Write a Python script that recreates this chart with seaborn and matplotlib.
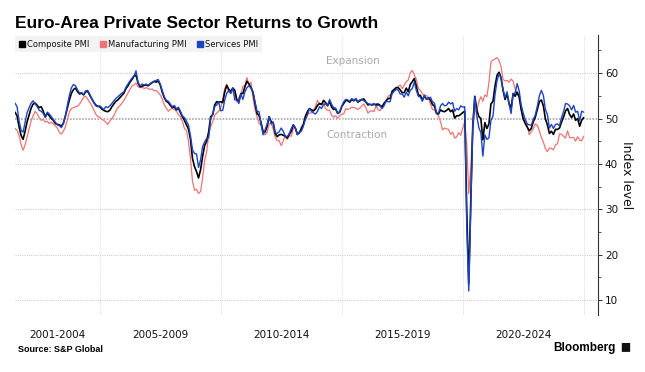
import pandas as pd
import matplotlib
matplotlib.use("Agg")
import matplotlib.pyplot as plt
from matplotlib.lines import Line2D
from matplotlib.patches import FancyBboxPatch
import seaborn as sns

# STYLE
sns.set_style("white")
plt.rcParams['font.family'] = ['DejaVu Sans']

# DATA: monthly PMI readings, Jul 2001 - Jan 2025
start_month = "2001-07-01"

composite = [
    51.4, 50.6, 48.2, 46.3, 45.4, 47.2,                                  # 2001 (Jul-Dec)
    49.3, 50.8, 52.3, 53.2, 53.4, 52.9, 52.4, 52.6, 51.6, 50.3, 51.2, 50.6,  # 2002
    50.0, 49.6, 48.9, 48.7, 48.6, 48.3, 49.0, 50.6, 52.4, 54.2, 55.6, 56.4,  # 2003
    56.7, 55.9, 55.4, 55.6, 55.2, 55.9, 56.0, 55.2, 54.4, 53.6, 53.0, 52.7,  # 2004
    52.6, 52.1, 51.8, 51.6, 51.5, 51.8, 52.6, 53.2, 53.8, 54.1, 54.6, 55.1,  # 2005
    55.6, 56.6, 57.2, 58.0, 58.6, 59.3, 59.6, 57.8, 57.0, 57.1, 57.3, 57.4,  # 2006
    57.2, 57.6, 57.9, 58.2, 58.0, 58.3, 57.4, 55.8, 54.6, 53.8, 53.5, 52.9,  # 2007
    52.4, 52.6, 51.9, 52.3, 51.3, 50.4, 49.6, 48.6, 47.7, 45.4, 41.2, 39.4,  # 2008
    38.3, 36.9, 38.7, 41.6, 44.0, 45.0, 47.0, 50.4, 50.8, 53.0, 53.7, 53.6,  # 2009
    53.7, 53.5, 55.9, 57.3, 56.4, 56.0, 56.7, 56.2, 54.1, 53.8, 55.5, 55.5,  # 2010
    57.0, 58.2, 57.6, 56.8, 55.8, 53.3, 51.1, 50.7, 49.1, 47.1, 47.0, 48.3,  # 2011
    50.4, 49.3, 49.1, 46.7, 46.0, 46.4, 46.5, 46.3, 46.1, 45.7, 46.5, 47.2,  # 2012
    48.6, 47.9, 46.5, 46.9, 47.7, 48.7, 50.5, 51.5, 52.2, 51.9, 51.7, 52.1,  # 2013
    52.9, 53.3, 53.1, 54.0, 53.5, 52.8, 53.8, 52.5, 52.0, 52.1, 51.1, 51.4,  # 2014
    52.6, 53.3, 54.0, 53.9, 53.6, 54.2, 53.9, 54.3, 53.6, 53.9, 54.2, 54.3,  # 2015
    53.6, 53.0, 53.1, 53.0, 53.1, 53.1, 53.2, 52.9, 52.6, 53.3, 53.9, 54.4,  # 2016
    54.4, 56.0, 56.4, 56.8, 56.8, 56.3, 55.7, 55.7, 56.7, 55.9, 57.5, 58.1,  # 2017
    58.8, 57.1, 55.2, 55.1, 54.1, 54.9, 54.3, 54.5, 54.1, 53.1, 52.7, 51.1,  # 2018
    51.0, 51.9, 51.6, 51.5, 51.8, 52.2, 51.5, 51.9, 50.1, 50.6, 50.6, 50.9,  # 2019
    51.3, 51.6, 29.7, 13.6, 31.9, 48.5, 54.9, 51.9, 50.4, 50.0, 45.3, 49.1,  # 2020
    47.8, 48.8, 53.2, 53.8, 57.1, 59.5, 60.2, 59.0, 56.2, 54.2, 55.4, 53.3,  # 2021
    52.3, 55.5, 54.9, 55.8, 54.8, 52.0, 49.9, 48.9, 48.1, 47.3, 47.8, 49.3,  # 2022
    50.3, 52.0, 53.7, 54.1, 52.8, 49.9, 48.6, 46.7, 47.2, 46.5, 47.6, 47.6,  # 2023
    47.9, 49.2, 50.3, 51.7, 52.2, 50.9, 50.2, 51.0, 49.6, 50.0, 48.3, 49.6,  # 2024
    50.2,                                                                # 2025 (Jan)
]

manufacturing = [
    47.8, 47.4, 46.3, 44.3, 43.0, 44.2,                                  # 2001 (Jul-Dec)
    46.0, 47.8, 49.5, 50.6, 51.6, 51.0, 50.2, 49.6, 49.8, 49.2, 49.4, 48.9,  # 2002
    49.2, 48.8, 48.4, 47.9, 46.9, 46.6, 47.2, 48.2, 49.8, 51.6, 52.2, 52.4,  # 2003
    52.6, 52.7, 53.2, 53.9, 54.7, 54.9, 54.3, 53.6, 52.9, 51.9, 51.0, 50.4,  # 2004
    50.3, 49.8, 49.6, 49.2, 48.7, 49.4, 50.0, 50.6, 51.6, 52.4, 52.8, 53.4,  # 2005
    54.0, 54.8, 55.6, 56.4, 57.2, 57.4, 57.8, 57.0, 56.8, 56.9, 56.6, 56.8,  # 2006
    56.6, 56.4, 56.5, 56.1, 56.2, 55.7, 55.2, 54.3, 53.0, 52.3, 51.6, 52.0,  # 2007
    52.3, 52.0, 51.6, 50.9, 50.4, 49.4, 47.8, 47.4, 45.0, 41.2, 36.2, 34.2,  # 2008
    34.4, 33.5, 33.9, 36.8, 40.7, 42.6, 46.3, 48.2, 49.3, 50.7, 51.2, 51.6,  # 2009
    52.4, 54.2, 56.6, 57.6, 55.8, 55.6, 56.7, 55.1, 53.7, 54.6, 55.3, 57.1,  # 2010
    57.3, 59.0, 57.5, 58.0, 54.6, 52.0, 50.4, 49.0, 48.5, 47.1, 46.4, 46.9,  # 2011
    48.8, 49.0, 47.7, 45.9, 45.1, 45.1, 44.0, 45.1, 46.1, 45.4, 46.2, 46.1,  # 2012
    47.9, 47.9, 46.8, 46.7, 48.3, 48.8, 50.3, 51.4, 51.1, 51.3, 51.6, 52.7,  # 2013
    54.0, 53.2, 53.0, 53.4, 52.2, 51.8, 51.8, 50.7, 50.3, 50.6, 50.1, 50.6,  # 2014
    51.0, 51.0, 52.2, 52.0, 52.2, 52.5, 52.4, 52.3, 52.0, 52.3, 52.8, 53.2,  # 2015
    52.3, 51.2, 51.6, 51.7, 51.5, 52.8, 52.0, 51.7, 52.6, 53.5, 53.7, 54.9,  # 2016
    55.2, 55.4, 56.2, 56.7, 57.0, 57.4, 56.6, 57.4, 58.1, 58.5, 60.1, 60.6,  # 2017
    59.6, 58.6, 56.6, 56.2, 55.5, 54.9, 55.1, 54.6, 53.2, 52.0, 51.8, 51.4,  # 2018
    50.5, 49.3, 47.5, 47.9, 47.7, 47.6, 46.5, 47.0, 45.7, 45.9, 46.9, 46.3,  # 2019
    47.9, 49.2, 44.5, 33.4, 39.4, 47.4, 51.8, 51.7, 53.7, 54.8, 53.8, 55.2,  # 2020
    54.8, 57.9, 62.5, 62.9, 63.1, 63.4, 62.8, 61.4, 58.6, 58.3, 58.4, 58.0,  # 2021
    58.7, 58.2, 56.5, 55.5, 54.6, 52.1, 49.8, 49.6, 48.4, 46.4, 47.1, 47.8,  # 2022
    48.8, 48.5, 47.3, 45.8, 44.8, 43.4, 42.7, 43.5, 43.4, 43.1, 44.2, 44.4,  # 2023
    46.6, 46.5, 46.1, 45.7, 47.3, 45.8, 45.8, 45.8, 45.0, 46.0, 45.2, 45.1,  # 2024
    46.1,                                                                # 2025 (Jan)
]

services = [
    53.4, 52.6, 49.5, 47.4, 47.0, 49.2,                                  # 2001 (Jul-Dec)
    51.3, 52.4, 53.4, 53.9, 53.2, 52.6, 51.8, 51.6, 51.1, 50.3, 51.4, 51.0,  # 2002
    50.4, 49.8, 49.2, 48.6, 48.4, 48.0, 48.9, 50.6, 53.0, 55.2, 56.8, 57.5,  # 2003
    57.2, 56.3, 55.6, 55.7, 55.3, 56.1, 56.2, 55.4, 54.4, 53.6, 52.8, 52.6,  # 2004
    52.8, 52.4, 52.0, 52.6, 52.4, 52.8, 53.3, 53.9, 54.4, 54.8, 55.2, 55.6,  # 2005
    55.9, 56.9, 57.6, 58.3, 58.9, 59.4, 60.5, 58.0, 57.2, 57.6, 57.4, 57.6,  # 2006
    57.3, 57.7, 58.0, 58.2, 58.4, 58.6, 57.6, 56.2, 54.8, 54.0, 53.8, 53.2,  # 2007
    52.6, 52.9, 52.1, 52.5, 51.6, 50.6, 50.2, 49.4, 48.6, 46.2, 43.1, 42.3,  # 2008
    42.2, 39.2, 40.9, 43.8, 44.8, 45.6, 45.7, 49.9, 50.9, 52.6, 53.0, 53.6,  # 2009
    51.7, 51.8, 54.1, 55.6, 56.2, 55.5, 56.7, 54.1, 54.1, 53.3, 55.4, 54.2,  # 2010
    55.9, 56.8, 57.2, 56.7, 55.8, 53.7, 51.6, 51.5, 48.8, 46.4, 47.5, 48.8,  # 2011
    50.4, 48.8, 49.2, 46.9, 46.7, 47.1, 47.9, 47.2, 46.1, 46.0, 46.7, 47.8,  # 2012
    48.6, 47.9, 46.4, 47.0, 47.2, 48.3, 49.8, 50.7, 52.2, 51.6, 51.2, 51.0,  # 2013
    51.6, 52.6, 52.2, 53.1, 53.2, 52.8, 54.2, 53.1, 52.4, 52.3, 51.1, 51.6,  # 2014
    52.7, 53.7, 54.2, 54.1, 53.8, 54.4, 54.0, 54.4, 53.7, 54.1, 54.2, 53.9,  # 2015
    53.6, 53.3, 53.1, 53.1, 53.3, 52.8, 52.9, 52.8, 52.2, 52.8, 53.8, 53.7,  # 2016
    53.7, 55.5, 56.0, 56.4, 56.3, 55.4, 55.4, 54.7, 55.8, 55.0, 56.2, 56.6,  # 2017
    58.0, 56.2, 54.9, 54.7, 53.8, 55.2, 54.2, 54.4, 54.7, 53.7, 53.4, 51.2,  # 2018
    51.2, 52.8, 53.3, 52.8, 52.9, 53.6, 53.2, 53.5, 51.6, 52.2, 51.9, 52.8,  # 2019
    52.5, 52.6, 26.4, 12.0, 30.5, 48.3, 54.7, 50.5, 48.0, 46.9, 41.7, 46.4,  # 2020
    45.4, 45.7, 49.6, 50.5, 55.2, 58.3, 59.8, 59.0, 56.4, 54.6, 55.9, 53.1,  # 2021
    51.1, 55.5, 55.6, 57.7, 56.1, 53.0, 51.2, 49.8, 48.8, 48.6, 48.5, 49.8,  # 2022
    50.8, 52.7, 55.0, 56.2, 55.1, 52.0, 50.9, 47.9, 48.7, 47.8, 48.7, 48.8,  # 2023
    48.4, 50.2, 51.5, 53.3, 53.2, 52.8, 51.9, 52.9, 51.4, 51.6, 49.5, 51.6,  # 2024
    51.4,                                                                # 2025 (Jan)
]

series_names = ["Composite PMI", "Manufacturing PMI", "Services PMI"]
period_labels = ["2001-2004", "2005-2009", "2010-2014", "2015-2019", "2020-2024"]
period_centers = [2003.25, 2007.5, 2012.5, 2017.5, 2022.5]
period_bounds = [2005, 2010, 2015, 2020, 2025]

# BUILD TABLE
dates = pd.date_range(start_month, periods=len(composite), freq="MS")
df = pd.DataFrame({
    "t": dates.year + (dates.month - 1) / 12,
    "Composite PMI": composite,
    "Manufacturing PMI": manufacturing,
    "Services PMI": services,
})
long_df = df.melt(id_vars="t", var_name="series", value_name="value")

colors = {"Composite PMI": "#000000",
          "Manufacturing PMI": "#f07373",
          "Services PMI": "#1d44c2"}
widths = {"Composite PMI": 1.2, "Manufacturing PMI": 0.9, "Services PMI": 1.0}

# FIGURE
fig = plt.figure(figsize=(6.45, 3.72), dpi=100)
ax = fig.add_axes([0.0233, 0.1532, 0.9038, 0.7527])

for name in ["Manufacturing PMI", "Composite PMI", "Services PMI"]:
    sns.lineplot(data=long_df[long_df["series"] == name], x="t", y="value",
                 color=colors[name], linewidth=widths[name], ax=ax,
                 legend=False)

ax.set_xlim(2001.5, 2025.59)
ax.set_ylim(6.7, 68.4)

# GRIDS
ax.set_yticks([10, 20, 30, 40, 50, 60])
ax.set_yticks([15, 25, 35, 45, 55, 65], minor=True)
for v in [10, 20, 30, 40, 60]:
    ax.axhline(v, color="#cfcfcf", linestyle=(0, (1, 1)), linewidth=0.8, zorder=0)
ax.axhline(50, color="#9a9a9a", linestyle=(0, (1, 1)), linewidth=1.1, zorder=0)
for b in period_bounds:
    ax.axvline(b, color="#e0e0e0", linestyle=(0, (1, 1)), linewidth=0.8, zorder=0)

# AXES
for s in ["top", "left", "bottom"]:
    ax.spines[s].set_visible(False)
ax.spines["right"].set_color("#333333")
ax.spines["right"].set_linewidth(0.8)
ax.yaxis.tick_right()
ax.tick_params(axis="y", which="major", length=3, width=0.7, pad=2,
               labelsize=7.5, colors="#333333", labelcolor="#111111")
ax.tick_params(axis="y", which="minor", length=2, width=0.6, colors="#333333")
ax.set_xticks(period_centers)
ax.set_xticklabels(period_labels)
ax.tick_params(axis="x", length=0, pad=11, labelsize=7.5, labelcolor="#111111")
ax.set_xlabel("")
ax.set_ylabel("Index level", rotation=270, fontsize=9, color="#111111")
ax.yaxis.set_label_position("right")
ax.yaxis.set_label_coords(1.049, 0.5)
ax.yaxis.label.set_va("center")

# ANNOTATIONS
ax.text(2014.35, 62.7, "Expansion", color="#aaaaaa", fontsize=7.5, va="center")
ax.text(2014.35, 46.3, "Contraction", color="#aaaaaa", fontsize=7.5, va="center")

# LEGEND
handles = [Line2D([0], [0], marker="s", linestyle="none", markersize=5,
                  markerfacecolor=colors[n], markeredgecolor=colors[n])
           for n in series_names]
leg = ax.legend(handles, series_names, loc="upper left", bbox_to_anchor=(0.0, 0.997),
                ncol=3, fontsize=6, frameon=True, fancybox=False,
                handlelength=0.8, handletextpad=0.2, columnspacing=1.2,
                borderpad=0.45, borderaxespad=0)
leg.get_frame().set_facecolor("#f0f0f0")
leg.get_frame().set_edgecolor("none")
for txt in leg.get_texts():
    txt.set_color("#111111")

# TITLE AND FOOTER
fig.text(0.023, 0.924, "Euro-Area Private Sector Returns to Growth", color="black",
         fontsize=12.5, fontweight="bold", family="Liberation Sans", va="baseline")
fig.text(0.028, 0.054, "Source: S&P Global", fontsize=6.5, fontweight="bold",
         family="Liberation Sans", va="baseline", color="black")
fig.text(0.955, 0.056, "Bloomberg", fontsize=8.5, fontweight="bold",
         family="Liberation Sans", va="baseline", ha="right", color="black")
fig.patches.append(FancyBboxPatch((0.965, 0.055), 0.011, 0.022,
                                  boxstyle="round,pad=0.001", transform=fig.transFigure,
                                  facecolor="#111111", edgecolor="none"))

fig.savefig("out.png", dpi=100)
